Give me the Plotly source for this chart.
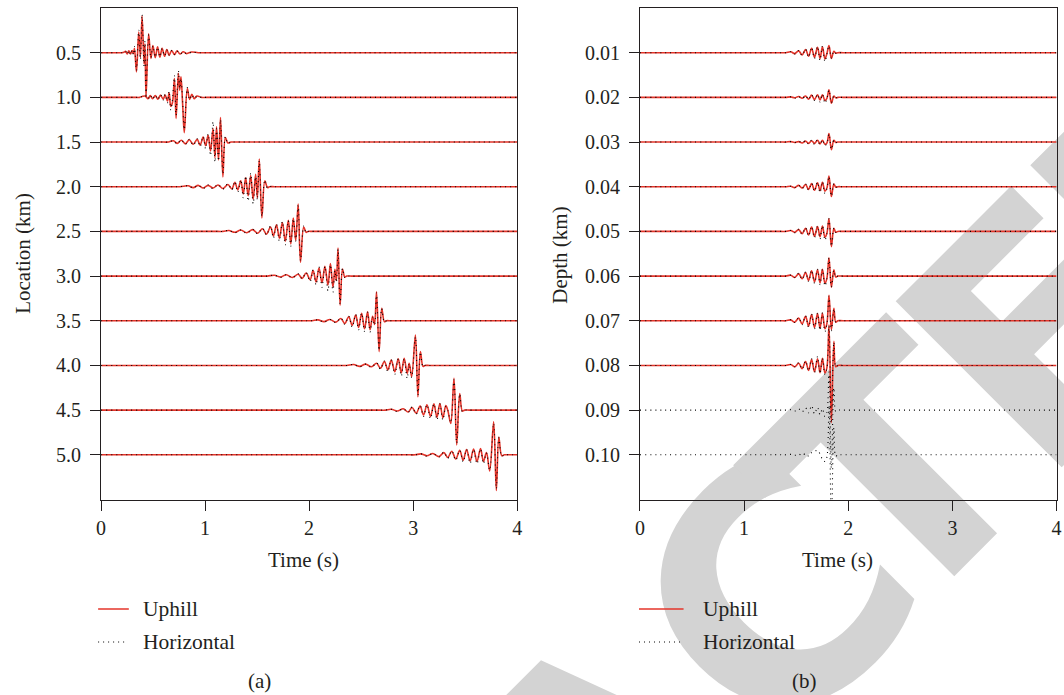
import plotly.graph_objects as go

W, H = 1064, 695

# ---------------- data ----------------
time_ticks = [0, 1, 2, 3, 4]
left_offsets = [0.5, 1.0, 1.5, 2.0, 2.5, 3.0, 3.5, 4.0, 4.5, 5.0]      # Location (km)
right_offsets = [0.01, 0.02, 0.03, 0.04, 0.05, 0.06, 0.07, 0.08, 0.09, 0.10]  # Depth (km)

# amplitudes are in units of the trace spacing (positive = upward)
a1_t = [0, 0.150, 0.200, 0.219, 0.235, 0.251, 0.267, 0.283, 0.298, 0.311, 0.321, 0.340, 0.362, 0.378, 0.394, 0.413, 0.422, 0.432, 0.457, 0.479, 0.498, 0.521, 0.543, 0.565, 0.587, 0.610, 0.632, 0.654, 0.679, 0.705, 0.730, 0.759, 0.790, 0.822, 0.870, 0.933, 1.0, 4.0]
a1_up = [0, 0, 0, 0.01, 0.03, -0.03, 0.04, -0.03, 0.05, -0.02, 0.10, -0.43, 0.46, -0.10, 0.82, -0.25, 0.20, -1.00, 0.42, -0.13, 0.16, -0.11, 0.13, -0.10, 0.10, -0.08, 0.07, -0.06, 0.05, -0.045, 0.04, -0.03, 0.02, -0.02, 0.015, 0, 0, 0]
a1_hz = [0, 0, 0, 0.01, 0.03, -0.04, 0.05, -0.04, 0.06, -0.05, 0.14, -0.40, 0.50, -0.15, 0.86, -0.30, 0.26, -0.95, 0.40, -0.12, 0.15, -0.10, 0.12, -0.09, 0.09, -0.07, 0.06, -0.05, 0.045, -0.04, 0.035, -0.03, 0.02, -0.02, 0.01, 0, 0, 0]

a2_t = [0, 0.320, 0.370, 0.394, 0.425, 0.451, 0.473, 0.495, 0.521, 0.546, 0.571, 0.597, 0.616, 0.638, 0.654, 0.670, 0.686, 0.705, 0.721, 0.743, 0.756, 0.768, 0.784, 0.800, 0.829, 0.851, 0.873, 0.895, 0.921, 0.965, 1.015, 4.0]
a2_up = [0, 0, 0, 0.02, 0.03, -0.03, 0.04, -0.03, 0.04, -0.04, 0.05, -0.04, 0.05, -0.08, 0.10, -0.20, -0.12, 0.42, -0.47, 0.54, 0.16, 0.46, -0.15, -0.79, 0.20, -0.045, 0.07, -0.03, 0.03, 0, 0, 0]
a2_hz = [0, 0, 0, 0.02, 0.04, -0.04, 0.05, -0.04, 0.05, -0.05, 0.06, -0.06, 0.07, -0.12, 0.14, -0.28, -0.05, 0.48, -0.40, 0.60, 0.20, 0.42, -0.10, -0.72, 0.22, -0.05, 0.06, -0.03, 0.02, 0, 0, 0]

a3_t = [0, 0.600, 0.648, 0.695, 0.733, 0.771, 0.810, 0.848, 0.886, 0.924, 0.952, 0.981, 1.005, 1.029, 1.052, 1.076, 1.095, 1.110, 1.129, 1.148, 1.171, 1.195, 1.219, 1.248, 1.300, 4.0]
a3_up = [0, 0, 0, 0.03, -0.03, 0.04, -0.04, 0.05, -0.05, 0.06, -0.07, 0.11, -0.08, 0.15, -0.20, 0.30, -0.35, 0.34, -0.40, 0.55, -0.78, 0.10, -0.02, 0, 0, 0]
a3_hz = [0, 0, 0, 0.03, -0.04, 0.05, -0.05, 0.06, -0.07, 0.07, -0.10, 0.12, -0.15, 0.18, -0.30, 0.45, -0.45, 0.30, -0.42, 0.50, -0.72, 0.12, -0.03, 0, 0, 0]

a4_t = [0, 0.690, 0.743, 0.790, 0.838, 0.886, 0.933, 0.981, 1.029, 1.076, 1.124, 1.171, 1.219, 1.257, 1.286, 1.314, 1.343, 1.367, 1.390, 1.414, 1.438, 1.462, 1.486, 1.502, 1.521, 1.546, 1.574, 1.600, 1.619, 1.670, 4.0]
a4_up = [0, 0, 0, 0.01, 0.02, -0.02, 0.03, -0.03, 0.03, -0.03, 0.04, -0.04, 0.05, -0.05, 0.10, -0.07, 0.13, -0.16, 0.20, -0.20, 0.25, -0.28, 0.28, -0.25, 0.62, -0.70, 0.13, -0.02, 0, 0, 0]
a4_hz = [0, 0, 0, 0.01, 0.02, -0.03, 0.03, -0.04, 0.04, -0.04, 0.05, -0.05, 0.06, -0.07, 0.12, -0.12, 0.16, -0.25, 0.24, -0.32, 0.30, -0.38, 0.22, -0.30, 0.58, -0.66, 0.15, -0.03, 0, 0, 0]

a5_t = [0, 1.120, 1.171, 1.229, 1.286, 1.343, 1.400, 1.457, 1.505, 1.552, 1.590, 1.629, 1.657, 1.686, 1.714, 1.743, 1.771, 1.800, 1.824, 1.848, 1.871, 1.895, 1.917, 1.948, 1.971, 1.990, 2.040, 4.0]
a5_up = [0, 0, 0, 0.02, -0.02, 0.03, -0.03, 0.04, -0.04, 0.06, -0.06, 0.10, -0.10, 0.15, -0.15, 0.20, -0.22, 0.25, -0.28, 0.30, -0.20, 0.61, -0.69, 0.10, -0.02, 0, 0, 0]
a5_hz = [0, 0, 0, 0.02, -0.03, 0.03, -0.04, 0.05, -0.05, 0.07, -0.08, 0.12, -0.15, 0.17, -0.22, 0.22, -0.30, 0.24, -0.33, 0.28, -0.22, 0.58, -0.65, 0.12, -0.03, 0, 0, 0]

a6_t = [0, 1.550, 1.600, 1.667, 1.724, 1.781, 1.838, 1.895, 1.933, 1.971, 2.010, 2.038, 2.067, 2.095, 2.124, 2.152, 2.181, 2.205, 2.229, 2.248, 2.262, 2.278, 2.298, 2.321, 2.343, 2.362, 2.410, 4.0]
a6_up = [0, 0, 0, 0.02, -0.02, 0.03, -0.03, 0.04, -0.05, 0.07, -0.08, 0.13, -0.13, 0.18, -0.15, 0.22, -0.20, 0.28, -0.25, 0.15, -0.10, 0.63, -0.65, 0.16, -0.02, 0, 0, 0]
a6_hz = [0, 0, 0, 0.02, -0.03, 0.03, -0.04, 0.05, -0.06, 0.08, -0.12, 0.14, -0.20, 0.20, -0.25, 0.22, -0.33, 0.25, -0.36, 0.12, -0.14, 0.60, -0.62, 0.17, -0.03, 0, 0, 0]

a7_t = [0, 1.980, 2.029, 2.086, 2.143, 2.200, 2.257, 2.305, 2.343, 2.381, 2.414, 2.448, 2.476, 2.505, 2.533, 2.562, 2.586, 2.610, 2.629, 2.648, 2.673, 2.698, 2.724, 2.743, 2.790, 4.0]
a7_up = [0, 0, 0, 0.02, -0.02, 0.03, -0.03, 0.05, -0.06, 0.09, -0.10, 0.13, -0.15, 0.17, -0.18, 0.20, -0.20, 0.10, -0.08, 0.65, -0.69, 0.28, -0.02, 0, 0, 0]
a7_hz = [0, 0, 0, 0.02, -0.03, 0.03, -0.04, 0.06, -0.08, 0.10, -0.14, 0.14, -0.20, 0.17, -0.24, 0.19, -0.25, 0.08, -0.10, 0.62, -0.66, 0.27, -0.03, 0, 0, 0]

a8_t = [0, 2.310, 2.362, 2.429, 2.486, 2.543, 2.600, 2.648, 2.686, 2.724, 2.757, 2.790, 2.824, 2.857, 2.886, 2.914, 2.943, 2.962, 2.986, 3.022, 3.046, 3.070, 3.095, 3.114, 3.160, 4.0]
a8_up = [0, 0, 0, 0.02, -0.02, 0.03, -0.03, 0.05, -0.06, 0.09, -0.10, 0.12, -0.14, 0.15, -0.17, 0.16, -0.18, 0.05, -0.25, 0.68, -0.70, 0.31, -0.02, 0, 0, 0]
a8_hz = [0, 0, 0, 0.02, -0.03, 0.03, -0.04, 0.06, -0.08, 0.10, -0.14, 0.13, -0.20, 0.15, -0.24, 0.15, -0.29, 0.04, -0.27, 0.64, -0.66, 0.30, -0.03, 0, 0, 0]

a9_t = [0, 2.680, 2.733, 2.790, 2.848, 2.905, 2.952, 2.990, 3.029, 3.067, 3.100, 3.133, 3.167, 3.200, 3.229, 3.257, 3.286, 3.314, 3.333, 3.362, 3.393, 3.419, 3.448, 3.473, 3.495, 3.540, 4.0]
a9_up = [0, 0, 0, 0.02, -0.02, 0.03, -0.04, 0.06, -0.07, 0.09, -0.11, 0.12, -0.14, 0.14, -0.16, 0.15, -0.17, 0.10, 0.0, -0.30, 0.71, -0.78, 0.37, -0.02, 0, 0, 0]
a9_hz = [0, 0, 0, 0.02, -0.03, 0.03, -0.05, 0.07, -0.09, 0.10, -0.14, 0.12, -0.19, 0.14, -0.22, 0.14, -0.22, 0.08, 0.0, -0.28, 0.68, -0.74, 0.36, -0.03, 0, 0, 0]

a10_t = [0, 2.970, 3.019, 3.076, 3.133, 3.190, 3.248, 3.295, 3.333, 3.371, 3.410, 3.448, 3.481, 3.514, 3.548, 3.581, 3.614, 3.648, 3.676, 3.705, 3.736, 3.774, 3.800, 3.824, 3.852, 3.876, 3.920, 4.0]
a10_up = [0, 0, 0, 0.02, -0.02, 0.03, -0.04, 0.05, -0.06, 0.08, -0.09, 0.10, -0.12, 0.12, -0.14, 0.13, -0.15, 0.14, -0.15, 0.05, -0.36, 0.74, -0.80, 0.40, -0.02, 0, 0, 0]
a10_hz = [0, 0, 0, 0.02, -0.03, 0.03, -0.05, 0.06, -0.08, 0.09, -0.12, 0.10, -0.16, 0.12, -0.19, 0.12, -0.20, 0.13, -0.20, 0.04, -0.34, 0.70, -0.76, 0.38, -0.03, 0, 0, 0]

# right panel: all traces share one time grid
b_t = [0, 1.350, 1.400, 1.448, 1.486, 1.524, 1.557, 1.590, 1.619, 1.648, 1.676, 1.705, 1.729, 1.752, 1.776, 1.795, 1.815, 1.838, 1.862, 1.880, 1.900, 1.950, 4.0]
b1_up = [0, 0, 0, 0.02, -0.02, 0.04, -0.05, 0.07, -0.08, 0.10, -0.10, 0.12, -0.13, 0.13, -0.14, -0.02, 0.16, -0.13, 0.03, -0.01, 0, 0, 0]
b1_hz = [0, 0, 0, 0.02, -0.03, 0.05, -0.06, 0.08, -0.10, 0.12, -0.13, 0.14, -0.17, 0.15, -0.20, -0.03, 0.15, -0.12, 0.03, -0.01, 0, 0, 0]
b2_up = [0, 0, 0, 0.01, -0.01, 0.02, -0.02, 0.03, -0.04, 0.05, -0.05, 0.06, -0.06, 0.06, -0.07, -0.02, 0.17, -0.13, 0.03, -0.01, 0, 0, 0]
b2_hz = [0, 0, 0, 0.01, -0.02, 0.02, -0.03, 0.04, -0.05, 0.06, -0.07, 0.07, -0.10, 0.07, -0.13, -0.03, 0.16, -0.12, 0.03, -0.01, 0, 0, 0]
b3_up = [0, 0, 0, 0.01, -0.01, 0.01, -0.02, 0.02, -0.03, 0.03, -0.03, 0.04, -0.04, 0.04, -0.05, -0.02, 0.19, -0.17, 0.04, -0.01, 0, 0, 0]
b3_hz = [0, 0, 0, 0.01, -0.01, 0.02, -0.02, 0.03, -0.04, 0.04, -0.05, 0.05, -0.06, 0.05, -0.08, -0.03, 0.18, -0.16, 0.04, -0.01, 0, 0, 0]
b4_up = [0, 0, 0, 0.01, -0.02, 0.03, -0.03, 0.05, -0.06, 0.07, -0.08, 0.09, -0.09, 0.10, -0.10, -0.03, 0.24, -0.22, 0.06, -0.01, 0, 0, 0]
b4_hz = [0, 0, 0, 0.01, -0.02, 0.03, -0.04, 0.06, -0.07, 0.08, -0.10, 0.10, -0.13, 0.11, -0.15, -0.04, 0.23, -0.21, 0.06, -0.01, 0, 0, 0]
b5_up = [0, 0, 0, 0.02, -0.02, 0.04, -0.05, 0.07, -0.08, 0.10, -0.11, 0.11, -0.12, 0.12, -0.13, -0.04, 0.29, -0.34, 0.07, -0.02, 0, 0, 0]
b5_hz = [0, 0, 0, 0.02, -0.03, 0.05, -0.06, 0.08, -0.10, 0.11, -0.14, 0.12, -0.17, 0.13, -0.20, -0.05, 0.28, -0.33, 0.07, -0.02, 0, 0, 0]
b6_up = [0, 0, 0, 0.02, -0.03, 0.05, -0.06, 0.08, -0.10, 0.12, -0.13, 0.14, -0.15, 0.15, -0.16, -0.05, 0.41, -0.25, 0.14, -0.02, 0, 0, 0]
b6_hz = [0, 0, 0, 0.02, -0.03, 0.06, -0.07, 0.09, -0.12, 0.13, -0.16, 0.15, -0.19, 0.15, -0.22, -0.06, 0.40, -0.24, 0.13, -0.02, 0, 0, 0]
b7_up = [0, 0, 0, 0.02, -0.03, 0.06, -0.07, 0.10, -0.12, 0.14, -0.15, 0.16, -0.17, 0.17, -0.18, -0.06, 0.57, -0.20, 0.28, -0.03, 0, 0, 0]
b7_hz = [0, 0, 0, 0.02, -0.04, 0.07, -0.09, 0.11, -0.14, 0.15, -0.18, 0.17, -0.21, 0.18, -0.24, -0.07, 0.55, -0.22, 0.27, -0.03, 0, 0, 0]
b8_up = [0, 0, 0, 0.02, -0.03, 0.05, -0.07, 0.09, -0.11, 0.13, -0.14, 0.15, -0.16, 0.16, -0.17, -0.05, 0.91, -1.28, 0.54, -0.03, 0, 0, 0]
b8_hz = [0, 0, 0, 0.02, -0.03, 0.06, -0.08, 0.10, -0.12, 0.15, -0.16, 0.20, -0.18, 0.17, -0.20, -0.06, 0.88, -1.25, 0.52, -0.03, 0, 0, 0]
b9_hz = [0, 0, 0, 0.01, -0.02, 0.03, -0.04, 0.05, -0.06, 0.10, -0.08, 0.06, -0.10, 0.03, -0.14, -0.05, 0.85, -1.30, 0.50, -0.03, 0, 0, 0]
b10_hz = [0, 0, 0, 0.01, -0.01, 0.02, -0.02, 0.03, -0.03, 0.05, 0.08, 0.10, 0.02, -0.10, -0.15, -0.05, 1.10, -1.60, 0.60, -0.03, 0, 0, 0]

series_names = ["Uphill", "Horizontal"]
panel_labels = ["(a)", "(b)"]
stamp_text = "RETRACTED"

# ---------------- figure ----------------
RED = "#e4342a"
INK = "#231f20"
SERIF = "Liberation Serif"


def px(x):
    return x / W


def py(y):
    return 1 - y / H


left = [
    (a1_t, a1_up, a1_hz), (a2_t, a2_up, a2_hz), (a3_t, a3_up, a3_hz), (a4_t, a4_up, a4_hz),
    (a5_t, a5_up, a5_hz), (a6_t, a6_up, a6_hz), (a7_t, a7_up, a7_hz), (a8_t, a8_up, a8_hz),
    (a9_t, a9_up, a9_hz), (a10_t, a10_up, a10_hz),
]
right_up = [b1_up, b2_up, b3_up, b4_up, b5_up, b6_up, b7_up, b8_up]
right_hz = [b1_hz, b2_hz, b3_hz, b4_hz, b5_hz, b6_hz, b7_hz, b8_hz, b9_hz, b10_hz]

for t, up, hz in left:
    assert len(t) == len(up) == len(hz), (len(t), len(up), len(hz))
for arr in right_up + right_hz:
    assert len(arr) == len(b_t)

fig = go.Figure()
red_line = dict(color=RED, width=1.6, shape="spline", smoothing=1.0)
dot_line = dict(color="#000000", width=1.1, dash="1px,4px", shape="spline", smoothing=1.0)
left_step = left_offsets[1] - left_offsets[0]
right_step = right_offsets[1] - right_offsets[0]

# Uphill (red) first
for off, (t, up, hz) in zip(left_offsets, left):
    fig.add_trace(go.Scatter(x=t, y=[off - a * left_step for a in up], mode="lines",
                             line=red_line, xaxis="x", yaxis="y", showlegend=False, hoverinfo="skip"))
for off, up in zip(right_offsets, right_up):
    fig.add_trace(go.Scatter(x=b_t, y=[off - a * right_step for a in up], mode="lines",
                             line=red_line, xaxis="x2", yaxis="y2", showlegend=False, hoverinfo="skip"))
# Horizontal (black dotted) on top
for off, (t, up, hz) in zip(left_offsets, left):
    fig.add_trace(go.Scatter(x=t, y=[off - a * left_step for a in hz], mode="lines",
                             line=dot_line, xaxis="x", yaxis="y", showlegend=False, hoverinfo="skip"))
for off, hz in zip(right_offsets, right_hz):
    fig.add_trace(go.Scatter(x=b_t, y=[off - a * right_step for a in hz], mode="lines",
                             line=dot_line, xaxis="x2", yaxis="y2", showlegend=False, hoverinfo="skip"))

axis_common = dict(showline=True, linecolor=INK, linewidth=1.2, mirror=True,
                   ticks="outside", ticklen=10, tickwidth=1.2, tickcolor=INK,
                   showgrid=False, zeroline=False, fixedrange=True,
                   tickfont=dict(family=SERIF, size=20, color=INK))

ydom = [py(499.5), py(8)]
fig.update_layout(
    width=W, height=H, margin=dict(l=0, r=0, t=0, b=0),
    paper_bgcolor="white", plot_bgcolor="rgba(0,0,0,0)", showlegend=False,
    xaxis=dict(domain=[px(97), px(517)], range=[0, 4], tickvals=time_ticks, anchor="y", **axis_common),
    yaxis=dict(domain=ydom, range=[5.5, 0], tickvals=left_offsets, tickformat=".1f", anchor="x",
               ticklabelstandoff=5, **axis_common),
    xaxis2=dict(domain=[px(641), px(1061.5)], range=[0, 4], tickvals=time_ticks, anchor="y2", **axis_common),
    yaxis2=dict(domain=ydom, range=[0.11, 0], tickvals=right_offsets, tickformat=".2f", anchor="x2",
                ticklabelstandoff=5, **axis_common),
)

ann = []


def text(x, y, s, size=21, angle=0, xanchor="center"):
    ann.append(dict(x=px(x), y=py(y), xref="paper", yref="paper", text=s, showarrow=False,
                    xanchor=xanchor, yanchor="middle", textangle=angle,
                    font=dict(family=SERIF, size=size, color=INK)))


text(301, 560, "Time (s)")
text(840, 560, "Time (s)")
text(18, 253, "Location (km)", angle=-90)
text(560, 255, "Depth (km)", angle=-90)
text(137, 609, series_names[0], size=21.5, xanchor="left")
text(137, 642, series_names[1], size=21.5, xanchor="left")
text(703, 609, series_names[0], size=21.5, xanchor="left")
text(703, 642, series_names[1], size=21.5, xanchor="left")
text(257, 681, panel_labels[0], size=21)
text(807, 681, panel_labels[1], size=21)
fig.update_layout(annotations=ann)

shapes = []
for (x0, x1, x2, x3) in [(94, 125, 94, 122), (640, 685, 640, 682)]:
    shapes.append(dict(type="line", xref="paper", yref="paper", x0=px(x0), x1=px(x1), y0=py(609), y1=py(609),
                       line=dict(color=RED, width=1.5)))
    shapes.append(dict(type="line", xref="paper", yref="paper", x0=px(x2), x1=px(x3), y0=py(642), y1=py(642),
                       line=dict(color="#000000", width=1.1, dash="1px,4px")))

# "RETRACTED" stamp behind the traces: one label per letter along a 45-degree baseline
stamp_pos = [-1057, -823, -603, -369, -120, 127, 300, 504, 720]   # px along the stamp baseline
stamp_base = -950                                                  # px across it
for letter, r in zip(stamp_text, stamp_pos):
    cx = 0.7071 * (r - stamp_base)
    cy = 0.7071 * (-r - stamp_base)
    shapes.append(dict(type="rect", xref="paper", yref="paper", layer="below",
                       x0=px(cx - 1), x1=px(cx + 1), y0=py(cy + 1), y1=py(cy - 1),
                       line=dict(width=0), fillcolor="rgba(0,0,0,0)",
                       label=dict(text=letter, textposition="middle center", textangle=-45,
                                  font=dict(family="DejaVu Sans", size=322, color="#d3d3d3", weight="bold"))))
fig.update_layout(shapes=shapes)

fig.write_html("out.html", config={"displayModeBar": False},
               post_script="document.body.style.margin='0px';document.body.style.padding='0px';"
                           "document.documentElement.style.overflow='hidden';")
